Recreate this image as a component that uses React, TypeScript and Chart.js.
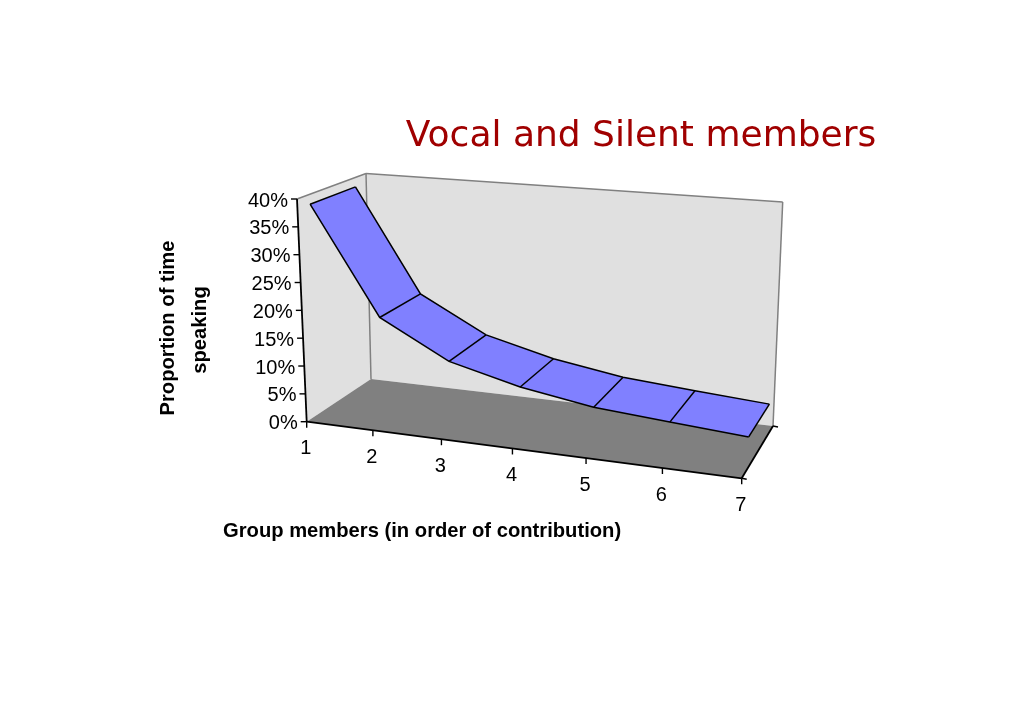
import React, { useEffect, useRef } from "react";
import { Chart, registerables } from "chart.js";

Chart.register(...registerables);

const members = ["1", "2", "3", "4", "5", "6", "7"];
const speakingShare = [0.382, 0.188, 0.123, 0.092, 0.072, 0.062, 0.053];
const yMax = 0.4;
const yStep = 0.05;
const chartTitle = "Vocal and Silent members";
const yTitleLines = ["Proportion of time", "speaking"];
const xTitle = "Group members (in order of contribution)";

// Box corners on screen, the 3D view of the plot
type P = [number, number];
const floorFL: P = [306.7, 421.7], floorFR: P = [741.7, 478.3], floorBR: P = [773, 426], floorBL: P = [371, 379];
const topFL: P = [297, 199], topFR: P = [751, 235.3], topBR: P = [782.7, 202], topBL: P = [366, 173.5];
const ribbonFront = 0.17;
const ribbonBack = 0.83;

function homography(p00: P, p10: P, p11: P, p01: P) {
  const dx1 = p10[0] - p11[0], dx2 = p01[0] - p11[0], sx = p00[0] - p10[0] + p11[0] - p01[0];
  const dy1 = p10[1] - p11[1], dy2 = p01[1] - p11[1], sy = p00[1] - p10[1] + p11[1] - p01[1];
  const d = dx1 * dy2 - dx2 * dy1;
  const g = (sx * dy2 - dx2 * sy) / d, h = (dx1 * sy - sx * dy1) / d;
  const a = p10[0] - p00[0] + g * p10[0], b = p01[0] - p00[0] + h * p01[0], c = p00[0];
  const e = p10[1] - p00[1] + g * p10[1], f = p01[1] - p00[1] + h * p01[1], i = p00[1];
  return (u: number, z: number): P => {
    const w = g * u + h * z + 1;
    return [(a * u + b * z + c) / w, (e * u + f * z + i) / w];
  };
}
const floorMap = homography(floorFL, floorFR, floorBR, floorBL);
const topMap = homography(topFL, topFR, topBR, topBL);
function project(u: number, z: number, v: number): P {
  const a = floorMap(u, z), b = topMap(u, z);
  return [a[0] + (b[0] - a[0]) * v, a[1] + (b[1] - a[1]) * v];
}

function poly(ctx: CanvasRenderingContext2D, pts: P[], fill: string | null, stroke: string | null, lw = 1) {
  ctx.beginPath();
  pts.forEach((p, i) => (i ? ctx.lineTo(p[0], p[1]) : ctx.moveTo(p[0], p[1])));
  ctx.closePath();
  if (fill) { ctx.fillStyle = fill; ctx.fill(); }
  if (stroke) { ctx.strokeStyle = stroke; ctx.lineWidth = lw; ctx.stroke(); }
}
function seg(ctx: CanvasRenderingContext2D, a: P, b: P, color: string, lw: number) {
  ctx.beginPath(); ctx.moveTo(a[0], a[1]); ctx.lineTo(b[0], b[1]);
  ctx.strokeStyle = color; ctx.lineWidth = lw; ctx.stroke();
}

const box3d = {
  id: "box3d",
  afterDatasetsUpdate(chart: any) {
    const xs = chart.scales.x, ys = chart.scales.y;
    const depths = [ribbonFront, ribbonBack];
    depths.forEach((z, di) => {
      const meta = chart.getDatasetMeta(di);
      meta.data.forEach((el: any, i: number) => {
        const u = (xs.getPixelForValue(i) - xs.left) / (xs.right - xs.left);
        const v = (ys.bottom - ys.getPixelForValue(speakingShare[i])) / (ys.bottom - ys.top);
        const p = project(u, z, v);
        el.x = p[0];
        el.y = p[1];
      });
    });
  },
  beforeDatasetsDraw(chart: any) {
    const ctx: CanvasRenderingContext2D = chart.ctx;
    const xs = chart.scales.x, ys = chart.scales.y;
    ctx.save();
    poly(ctx, [floorFL, topFL, topBL, floorBL], "#e0e0e0", null);
    poly(ctx, [floorBL, topBL, topBR, floorBR], "#e0e0e0", null);
    seg(ctx, topFL, topBL, "#808080", 1.5);
    seg(ctx, topBL, topBR, "#808080", 1.5);
    seg(ctx, topBL, floorBL, "#808080", 1.5);
    seg(ctx, topBR, floorBR, "#808080", 1.5);
    poly(ctx, [floorFL, floorFR, floorBR, floorBL], "#808080", null);

    // axes
    seg(ctx, floorFL, topFL, "#000", 1.8);
    seg(ctx, floorFL, floorFR, "#000", 1.8);
    seg(ctx, floorFR, floorBR, "#000", 1.8);
    seg(ctx, floorBR, [floorBR[0] + 5, floorBR[1] + 1], "#000", 1.4);
    seg(ctx, floorFR, [floorFR[0] + 5, floorFR[1] + 1], "#000", 1.4);

    // y ticks and labels
    ctx.fillStyle = "#000";
    ctx.font = "20px 'Liberation Sans'";
    ctx.textAlign = "right";
    ctx.textBaseline = "middle";
    ys.ticks.forEach((t: any) => {
      const v = (ys.bottom - ys.getPixelForValue(t.value)) / (ys.bottom - ys.top);
      const p = project(0, 0, v);
      seg(ctx, p, [p[0] - 6, p[1]], "#000", 1.4);
      ctx.fillStyle = "#000";
      ctx.fillText(Math.round(t.value * 100) + "%", p[0] - 9, p[1] + 2);
    });

    // x ticks and labels
    ctx.textAlign = "center";
    members.forEach((m, i) => {
      const u = (xs.getPixelForValue(i) - xs.left) / (xs.right - xs.left);
      const p = project(u, 0, 0);
      seg(ctx, p, [p[0], p[1] + 6], "#000", 1.4);
      ctx.fillStyle = "#000";
      ctx.fillText(m, p[0] - 1, p[1] + 27);
    });

    // ribbon
    const f = chart.getDatasetMeta(0).data, b = chart.getDatasetMeta(1).data;
    for (let i = 0; i < f.length - 1; i++) {
      poly(ctx, [[f[i].x, f[i].y], [f[i + 1].x, f[i + 1].y], [b[i + 1].x, b[i + 1].y], [b[i].x, b[i].y]], "#8080ff", null);
    }
    for (let i = 0; i < f.length; i++) seg(ctx, [f[i].x, f[i].y], [b[i].x, b[i].y], "#000", 1.5);
    ctx.restore();
  },
  afterDraw(chart: any) {
    const ctx: CanvasRenderingContext2D = chart.ctx;
    ctx.save();
    ctx.fillStyle = "#a00000";
    ctx.font = "36px 'DejaVu Sans'";
    ctx.textAlign = "center";
    ctx.textBaseline = "middle";
    ctx.fillText(chartTitle, 641, 137);

    ctx.fillStyle = "#000";
    ctx.font = "bold 20.2px 'Liberation Sans'";
    ctx.textAlign = "left";
    ctx.fillText(xTitle, 223, 531);

    ctx.textAlign = "center";
    yTitleLines.forEach((line, i) => {
      ctx.save();
      ctx.translate(168 + i * 32, i ? 330 : 328);
      ctx.rotate(-Math.PI / 2);
      ctx.fillText(line, 0, 0);
      ctx.restore();
    });
    ctx.restore();
  },
};

export default function App() {
  const ref = useRef<HTMLCanvasElement>(null);
  useEffect(() => {
    const edge = (label: string) => ({
      label,
      data: speakingShare,
      borderColor: "#000",
      borderWidth: 1.5,
      pointRadius: 0,
      tension: 0,
      fill: false,
      clip: false as any,
    });
    const chart = new Chart(ref.current!, {
      type: "line",
      data: { labels: members, datasets: [edge("Front edge"), edge("Back edge")] },
      options: {
        responsive: false,
        animation: false,
        events: [],
        layout: { padding: { left: 307, right: 282, top: 199, bottom: 302 } },
        plugins: { legend: { display: false }, title: { display: false }, tooltip: { enabled: false } },
        scales: {
          x: { type: "category", display: false, offset: false },
          y: { type: "linear", display: false, min: 0, max: yMax, ticks: { stepSize: yStep } },
        },
      },
      plugins: [box3d],
    } as any);
    return () => chart.destroy();
  }, []);
  return (
    <canvas
      ref={ref}
      width={1024}
      height={724}
      style={{ position: "absolute", left: 0, top: 0, display: "block", background: "#fff" }}
    />
  );
}
